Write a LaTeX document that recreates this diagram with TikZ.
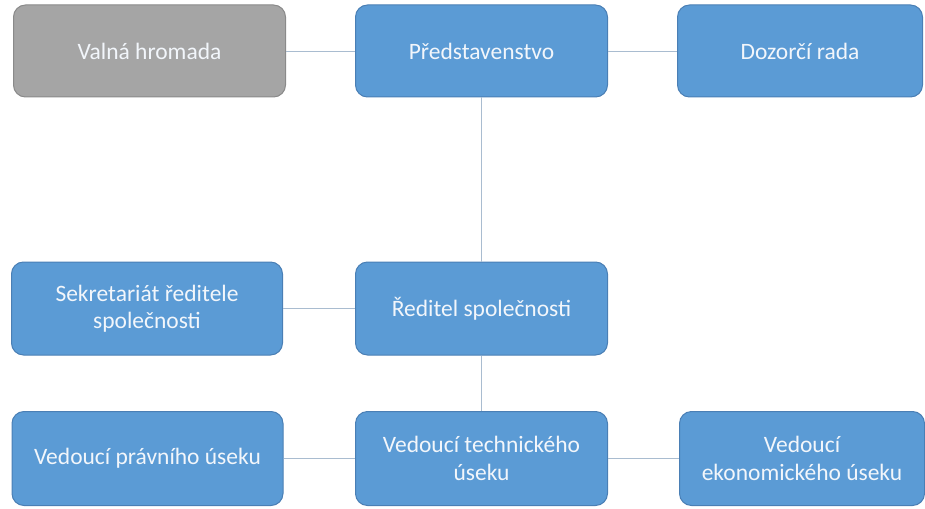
\documentclass[tikz,border=0pt]{standalone}
\usepackage{fontspec}
\setmainfont{Carlito}
\definecolor{boxblue}{HTML}{5B9BD5}
\definecolor{boxblueline}{HTML}{4A7FB5}
\definecolor{boxgray}{HTML}{A5A5A5}
\definecolor{boxgrayline}{HTML}{8A8A8A}
\definecolor{linkcol}{HTML}{A9BCD0}
\definecolor{txtcol}{HTML}{F2F6FB}
\begin{document}
\begin{tikzpicture}[x=1pt,y=-1pt,
  orgbox/.style={draw=boxblueline, line width=1pt, fill=boxblue, rounded corners=12pt,
    minimum height=92pt, inner sep=0pt, align=center, text=txtcol,
    font=\fontsize{23.5}{27.5}\selectfont},
  graybox/.style={orgbox, fill=boxgray, draw=boxgrayline},
  link/.style={draw=linkcol, line width=0.9pt}]
\useasboundingbox (0,0) rectangle (925,508);
\node[graybox, minimum width=272pt] (vh) at (149.5,51) {Valná hromada};
\node[orgbox, minimum width=252pt] (pr) at (481.5,51) {Představenstvo};
\node[orgbox, minimum width=245pt] (dr) at (800,51) {Dozorčí rada};
\node[orgbox, minimum width=271pt, minimum height=93pt] (sk) at (147,308.5) {Sekretariát ředitele\\společnosti};
\node[orgbox, minimum width=252pt, minimum height=93pt] (rs) at (481.5,308.5) {Ředitel společnosti};
\node[orgbox, minimum width=271pt, minimum height=94pt] (vp) at (147.5,458.5) {Vedoucí právního úseku};
\node[orgbox, minimum width=252pt, minimum height=94pt] (vt) at (481.5,458.5) {Vedoucí technického\\úseku};
\node[orgbox, minimum width=245pt, minimum height=94pt] (ve) at (802,458.5) {Vedoucí\\ekonomického úseku};
\draw[link] (vh.east) -- (pr.west);
\draw[link] (pr.east) -- (dr.west);
\draw[link] (pr.south) -- (rs.north);
\draw[link] (sk.east) -- (rs.west);
\draw[link] (rs.south) -- (vt.north);
\draw[link] (vp.east) -- (vt.west);
\draw[link] (vt.east) -- (ve.west);
\end{tikzpicture}
\end{document}
